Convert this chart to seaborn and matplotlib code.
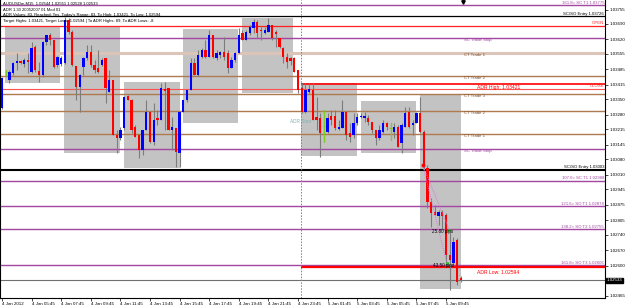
import matplotlib
matplotlib.use("Agg")
import matplotlib.pyplot as plt
from matplotlib.patches import Rectangle
import seaborn as sns
import numpy as np
import pandas as pd

# ---------------- data ----------------
opens = [1.03311, 1.03473, 1.03437, 1.03469, 1.03514, 1.03523, 1.03509, 1.03527, 1.03473, 1.03586,
         1.03478, 1.03460, 1.03609, 1.03640, 1.03618, 1.03505, 1.03509, 1.03514, 1.03708, 1.03654,
         1.03500, 1.03406, 1.03496, 1.03537, 1.03564, 1.03505, 1.03491, 1.03505, 1.03537, 1.03383,
         1.03437, 1.03189, 1.03176, 1.03221, 1.03365, 1.03347, 1.03225, 1.03189, 1.03122, 1.03212,
         1.03293, 1.03158, 1.03266, 1.03257, 1.03397, 1.03401, 1.03212, 1.03221, 1.03108, 1.03293,
         1.03347, 1.03392, 1.03514, 1.03460, 1.03541, 1.03573, 1.03541, 1.03640, 1.03537, 1.03550,
         1.03564, 1.03559, 1.03491, 1.03527, 1.03559, 1.03649, 1.03618, 1.03649, 1.03672, 1.03699,
         1.03663, 1.03649, 1.03654, 1.03685, 1.03654, 1.03627, 1.03582, 1.03541, 1.03537, 1.03537,
         1.03482, 1.03401, 1.03293, 1.03383, 1.03392, 1.03270, 1.03266, 1.03230, 1.03203, 1.03275,
         1.03275, 1.03216, 1.03221, 1.03293, 1.03198, 1.03189, 1.03243, 1.03270, 1.03266, 1.03266,
         1.03248, 1.03212, 1.03176, 1.03203, 1.03243, 1.03221, 1.03203, 1.03225, 1.03153, 1.03225,
         1.03293, 1.03234, 1.03243, 1.03289, 1.03203, 1.03041, 1.02887, 1.02842, 1.02824, 1.02842,
         1.02829, 1.02648, 1.02612, 1.02716, 1.02544]
highs = [1.03451, 1.03482, 1.03482, 1.03518, 1.03559, 1.03527, 1.03537, 1.03559, 1.03609, 1.03595,
         1.03518, 1.03613, 1.03640, 1.03649, 1.03618, 1.03546, 1.03546, 1.03721, 1.03717, 1.03663,
         1.03500, 1.03464, 1.03541, 1.03595, 1.03595, 1.03527, 1.03573, 1.03537, 1.03537, 1.03482,
         1.03437, 1.03212, 1.03225, 1.03365, 1.03370, 1.03352, 1.03234, 1.03189, 1.03212, 1.03347,
         1.03293, 1.03334, 1.03302, 1.03424, 1.03428, 1.03401, 1.03270, 1.03221, 1.03293, 1.03347,
         1.03392, 1.03537, 1.03537, 1.03573, 1.03582, 1.03618, 1.03663, 1.03640, 1.03573, 1.03568,
         1.03631, 1.03573, 1.03541, 1.03564, 1.03672, 1.03663, 1.03663, 1.03685, 1.03712, 1.03708,
         1.03676, 1.03676, 1.03717, 1.03685, 1.03663, 1.03627, 1.03586, 1.03559, 1.03541, 1.03541,
         1.03482, 1.03424, 1.03424, 1.03424, 1.03424, 1.03361, 1.03289, 1.03302, 1.03289, 1.03302,
         1.03302, 1.03257, 1.03347, 1.03293, 1.03243, 1.03289, 1.03289, 1.03289, 1.03293, 1.03280,
         1.03248, 1.03212, 1.03234, 1.03257, 1.03248, 1.03243, 1.03243, 1.03234, 1.03243, 1.03316,
         1.03316, 1.03257, 1.03293, 1.03361, 1.03212, 1.03054, 1.02905, 1.02874, 1.02851, 1.02851,
         1.02838, 1.02752, 1.02729, 1.02725, 1.02551]
lows = [1.03307, 1.03455, 1.03424, 1.03460, 1.03482, 1.03509, 1.03496, 1.03469, 1.03469, 1.03473,
        1.03428, 1.03451, 1.03595, 1.03595, 1.03491, 1.03496, 1.03500, 1.03509, 1.03645, 1.03500,
        1.03347, 1.03293, 1.03460, 1.03527, 1.03496, 1.03469, 1.03469, 1.03500, 1.03334, 1.03383,
        1.03189, 1.03108, 1.03167, 1.03212, 1.03347, 1.03198, 1.03180, 1.03086, 1.03099, 1.03212,
        1.03153, 1.03144, 1.03234, 1.03257, 1.03212, 1.03212, 1.03122, 1.03045, 1.03045, 1.03293,
        1.03338, 1.03392, 1.03460, 1.03455, 1.03537, 1.03537, 1.03541, 1.03537, 1.03527, 1.03537,
        1.03527, 1.03469, 1.03491, 1.03518, 1.03559, 1.03618, 1.03618, 1.03640, 1.03649, 1.03627,
        1.03618, 1.03645, 1.03654, 1.03618, 1.03586, 1.03582, 1.03514, 1.03491, 1.03505, 1.03473,
        1.03379, 1.03289, 1.03289, 1.03379, 1.03257, 1.03212, 1.03090, 1.03158, 1.03198, 1.03234,
        1.03212, 1.03212, 1.03221, 1.03167, 1.03158, 1.03176, 1.03234, 1.03266, 1.03248, 1.03234,
        1.03198, 1.03144, 1.03167, 1.03198, 1.03212, 1.03167, 1.03176, 1.03135, 1.03108, 1.03225,
        1.03221, 1.03189, 1.03243, 1.03198, 1.03032, 1.02860, 1.02775, 1.02829, 1.02784, 1.02761,
        1.02603, 1.02490, 1.02603, 1.02513, 1.02528]
closes = [1.03446, 1.03473, 1.03473, 1.03514, 1.03523, 1.03514, 1.03527, 1.03518, 1.03582, 1.03482,
          1.03460, 1.03609, 1.03640, 1.03618, 1.03496, 1.03541, 1.03537, 1.03708, 1.03654, 1.03505,
          1.03406, 1.03460, 1.03537, 1.03564, 1.03505, 1.03482, 1.03473, 1.03527, 1.03401, 1.03437,
          1.03189, 1.03176, 1.03212, 1.03361, 1.03347, 1.03212, 1.03180, 1.03122, 1.03212, 1.03293,
          1.03158, 1.03257, 1.03257, 1.03401, 1.03388, 1.03212, 1.03225, 1.03113, 1.03293, 1.03347,
          1.03392, 1.03514, 1.03460, 1.03550, 1.03573, 1.03541, 1.03640, 1.03541, 1.03559, 1.03564,
          1.03541, 1.03491, 1.03527, 1.03559, 1.03640, 1.03618, 1.03654, 1.03676, 1.03699, 1.03649,
          1.03658, 1.03663, 1.03685, 1.03627, 1.03645, 1.03586, 1.03541, 1.03518, 1.03523, 1.03473,
          1.03392, 1.03293, 1.03392, 1.03397, 1.03257, 1.03257, 1.03198, 1.03230, 1.03266, 1.03257,
          1.03221, 1.03225, 1.03293, 1.03189, 1.03180, 1.03243, 1.03270, 1.03275, 1.03275, 1.03248,
          1.03212, 1.03176, 1.03212, 1.03243, 1.03225, 1.03221, 1.03225, 1.03135, 1.03234, 1.03289,
          1.03225, 1.03243, 1.03289, 1.03203, 1.03054, 1.02887, 1.02838, 1.02829, 1.02842, 1.02824,
          1.02648, 1.02626, 1.02707, 1.02526, 1.02533]

time_labels = ["4 Jan 2012", "4 Jan 05:45", "4 Jan 07:45", "4 Jan 09:45", "4 Jan 11:45",
               "4 Jan 13:45", "4 Jan 15:45", "4 Jan 17:45", "4 Jan 19:45", "4 Jan 21:45",
               "4 Jan 23:45", "5 Jan 01:45", "5 Jan 03:45", "5 Jan 05:45", "5 Jan 07:45",
               "5 Jan 09:45"]

price_ticks = [1.03755, 1.03690, 1.03620, 1.03555, 1.03485, 1.03415, 1.03350, 1.03280,
               1.03215, 1.03145, 1.03080, 1.03010, 1.02945, 1.02875, 1.02805, 1.02740,
               1.02670, 1.02600, 1.02465]

# session boxes (bar-index start/end, high, low)
box_start = [0.8, 16.8, 33.0, 48.9, 64.9, 80.8, 97.0, 113.0]
box_end = [15.7, 31.9, 48.1, 63.8, 78.6, 95.9, 111.9, 124.1]
box_high = [1.03676, 1.03676, 1.03428, 1.03667, 1.03717, 1.03424, 1.03343, 1.03370]
box_low = [1.03424, 1.03108, 1.03041, 1.03243, 1.03379, 1.03095, 1.03108, 1.02495]

# full-width levels
level_prices = [1.03775, 1.03726, 1.03681, 1.03627, 1.03559, 1.03455, 1.03397, 1.03374,
                1.03298, 1.03194, 1.03126, 1.03032, 1.02982, 1.02869, 1.02765, 1.02603, 1.02533]
level_kinds = ["fib", "entry", "open", "stop", "ct1", "ct", "close", "ct",
               "ct", "ct", "stop", "entry2", "fib", "fib", "fib", "fib", "cur"]
adr_high = 1.03421
adr_low = 1.02594
adr_start = 80.8

right_labels = {1.03775: "161.8= SC T1 1.03775", 1.03726: "SC/SO Entry 1.03726",
                1.03032: "SC/SO Entry 1.03003", 1.02982: "107.0= SC T1 1.02988",
                1.02869: "121.6= SO T1 1.02878", 1.02765: "138.2= SO T2 1.02755",
                1.02603: "161.8= SO T3 1.02606"}
mid_labels = {1.03627: "SC Trade Stop", 1.03559: "CT Trade 1", 1.03455: "CT Trade 2",
              1.03374: "CT Trade 3", 1.03298: "CT Trade 2", 1.03194: "CT Trade 1",
              1.03126: "SC Trade Stop"}

signal_start = (113.7, 1.03054)
signal_ends = [(120.9, 1.02761), (120.2, 1.02613)]
signal_texts = ["25.80 pips", "43.50 pips"]

# ---------------- figure ----------------
sns.set_theme(style="white")
plt.rcParams["font.family"] = ["Liberation Sans", "DejaVu Sans"]

W, H = 625, 307
fig = plt.figure(figsize=(W / 100, H / 100), dpi=100)
ax = fig.add_axes([0, 9 / H, 605 / W, 298 / H])
ax.set_facecolor("white")

y_top, y_bot = 1.03798, 1.02454
ax.set_ylim(y_bot, y_top)
ax.set_xlim(-2 / 3.7, 603 / 3.7)

# boxes
for s, e, hi, lo in zip(box_start, box_end, box_high, box_low):
    ax.add_patch(Rectangle((s, lo), e - s, hi - lo, facecolor="#c3c3c3",
                           edgecolor="none", zorder=1))

styles = {"fib": dict(color="#a347a3", lw=1.0), "entry": dict(color="#000000", lw=0.9),
          "open": dict(color="#ff2020", lw=0.9), "stop": dict(color="#a347a3", lw=1.0),
          "ct1": dict(color="#dcc4b8", lw=2.2), "ct": dict(color="#b07a50", lw=1.0),
          "close": dict(color="#ff5050", lw=0.8), "entry2": dict(color="#000000", lw=1.5),
          "cur": dict(color="#707070", lw=0.8)}
for p, k in zip(level_prices, level_kinds):
    ax.axhline(p, zorder=2, **styles[k])

ax.hlines([adr_high, adr_low], adr_start, 170, colors="#ff0000", lw=[1.2, 1.6], zorder=2)
ax.axvline(adr_start, color="#808080", lw=0.7, ls=(0, (1.5, 1.5)), zorder=2)

fs = 3.1
xr = 602 / 3.7
for p, t in right_labels.items():
    c = "#a347a3" if "=" in t else "#000000"
    ax.text(xr, p + 0.00002, t, fontsize=fs, color=c, ha="right", va="bottom", zorder=6)
for p, t in mid_labels.items():
    c = "#a347a3" if "Stop" in t else "#7a5030"
    ax.text(125.0, p - 0.00002, t, fontsize=fs, color=c, ha="left", va="top", zorder=6)
ax.text(xr, 1.03681 + 0.00002, "OPEN", fontsize=fs, color="#ff2020", ha="right", va="bottom")
ax.text(xr, 1.03397 + 0.00002, "CLOSE", fontsize=fs, color="#ff2020", ha="right", va="bottom")
ax.text(128.4, 1.03405, "ADR High: 1.03421", fontsize=3.6, color="#ff0000", ha="left", va="center")
ax.text(128.4, 1.02570, "ADR Low: 1.02594", fontsize=3.6, color="#ff0000", ha="left", va="center")
ax.text(77.8, 1.03252, "ADR Start", fontsize=3.4, color="#7fb4b4", ha="left", va="center", zorder=6)

# candles
df = pd.DataFrame({"i": np.arange(len(opens)), "o": opens, "h": highs, "l": lows, "c": closes})
ax.vlines(df["i"], df["l"], df["h"], color="#7c7c7c", lw=0.8, zorder=3)
up = df[df["c"] > df["o"]]
dn = df[df["c"] < df["o"]]
dj = df[df["c"] == df["o"]]
ax.bar(up["i"], up["c"] - up["o"], bottom=up["o"], width=0.62, color="#0000ff", zorder=4, linewidth=0)
ax.bar(dn["i"], dn["o"] - dn["c"], bottom=dn["c"], width=0.62, color="#ff0000", zorder=4, linewidth=0)
ax.vlines(dj["i"], dj["l"], dj["h"], color="#7ccd20", lw=0.9, zorder=4)
ax.hlines(dj["o"], dj["i"] - 0.3, dj["i"] + 0.3, color="#7ccd20", lw=0.9, zorder=4)

# signal lines
for (ex, ey) in signal_ends:
    ax.plot([signal_start[0], ex], [signal_start[1], ey], color="#e070e0", lw=0.7,
            ls=(0, (1, 1.2)), zorder=5)
sns.scatterplot(x=[signal_start[0]], y=[signal_start[1]], color="#ff0000", s=8, ax=ax,
                zorder=6, linewidth=0)
sns.scatterplot(x=[e[0] for e in signal_ends], y=[e[1] for e in signal_ends], color="#30c030",
                s=5, ax=ax, zorder=6, linewidth=0)
ax.text(116.2, 1.02752, signal_texts[0], fontsize=3.3, color="#000000", ha="left", va="center", zorder=6)
ax.text(116.5, 1.02599, signal_texts[1], fontsize=3.3, color="#000000", ha="left", va="center", zorder=6)

# top marker
ax.plot([124.6], [1.03788], marker="v", color="black", ms=2.5, clip_on=False, zorder=7)

# axes styling
for s in ["left", "bottom", "right"]:
    ax.spines[s].set_visible(True)
    ax.spines[s].set_color("#000000")
    ax.spines[s].set_linewidth(0.8)
ax.spines["top"].set_visible(False)
ax.yaxis.tick_right()
ax.set_yticks(price_ticks)
ax.set_yticklabels([f"{v:.5f}" for v in price_ticks])
ax.tick_params(axis="y", labelsize=3.2, length=2, width=0.5, pad=1, colors="#000000", right=True)
ax.set_xticks(np.arange(0, 125, 8))
ax.set_xticklabels(time_labels)
for lbl in ax.get_xticklabels():
    lbl.set_horizontalalignment("left")
ax.tick_params(axis="x", labelsize=3.2, length=2, width=0.5, pad=1, colors="#000000", bottom=True)
ax.grid(False)

# current price tag
ax.text(605.5 / 3.7 - 0.5 / 3.7, 1.02533, "1.02533", transform=ax.transData, fontsize=3.2,
        color="white", ha="left", va="center", clip_on=False,
        bbox=dict(boxstyle="square,pad=0.15", fc="black", ec="black"), zorder=8)

# header texts
hdr = ["AUDUSDm,M15  1.02544 1.02551 1.02528 1.02533",
       "ADR 1.30 20052007 01 Mod 01",
       "ADR Values: 83, Reached: Yes, Today's Range: 83, To High: 1.03421, To Low: 1.02594",
       "Target Highs: 1.03421, Target Lows: 1.02594 | To ADR Highs: 89, To ADR Lows: -8"]
for k, t in enumerate(hdr):
    fig.text(3 / W, 1 - (4 + 5.6 * k) / H, t, fontsize=3.0, color="#000000", ha="left", va="center")

fig.savefig("out.png", dpi=100, facecolor="white")
